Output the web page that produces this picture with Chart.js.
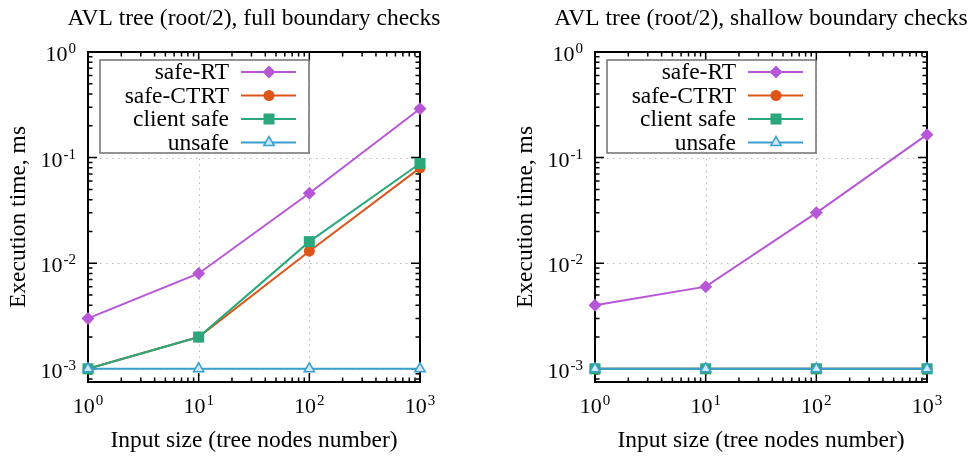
<!DOCTYPE html>
<html>
<head>
<meta charset="utf-8">
<script src="https://cdn.jsdelivr.net/npm/chart.js@4.4.1/dist/chart.umd.min.js"></script>
<style>
body { margin: 0; background: #fff; }
#wrap { display: flex; width: 974px; height: 458px; }
.box { width: 487px; height: 458px; }
</style>
</head>
<body>
<div id="wrap">
  <div class="box"><canvas id="fullChart" width="487" height="458"></canvas></div>
  <div class="box"><canvas id="shallowChart" width="487" height="458"></canvas></div>
</div>
<script>
// -- data --
const inputSizes = [1, 10, 100, 1000];
const seriesNames = ['safe-RT', 'safe-CTRT', 'client safe', 'unsafe'];

// full boundary checks
const fullSafeRT = [0.003, 0.008, 0.046, 0.29];
const fullSafeCTRT = [0.001, 0.002, 0.013, 0.08];
const fullClientSafe = [0.001, 0.002, 0.016, 0.088];
const fullUnsafe = [0.001, 0.001, 0.001, 0.001];

// shallow boundary checks
const shallowSafeRT = [0.004, 0.006, 0.030, 0.165];
const shallowSafeCTRT = [0.001, 0.001, 0.001, 0.001];
const shallowClientSafe = [0.001, 0.001, 0.001, 0.001];
const shallowUnsafe = [0.001, 0.001, 0.001, 0.001];

// tick values and labels (10 to the power of ...)
const xTicks = [1, 10, 100, 1000];
const xTickExps = ['0', '1', '2', '3'];
const yTicks = [0.001, 0.01, 0.1, 1];
const yTickExps = ['-3', '-2', '-1', '0'];

// -- styles --
const FONT = "'Liberation Serif', 'DejaVu Serif', serif";
const seriesColors = ['#b757d8', '#dc561a', '#2ba87b', '#3a9fcf'];
const seriesPoints = ['rectRot', 'circle', 'rect', 'triangle'];
const seriesRadius = [6.5, 5.5, 7.8, 6];
const seriesFill = ['#b757d8', '#dc561a', '#2ba87b', '#cfe8f5'];

function buildDatasets(valueLists)
{
    return valueLists.map((vals, i) => ({
        label: seriesNames[i],
        data: inputSizes.map((s, k) => ({x: s, y: vals[k]})),
        borderColor: seriesColors[i],
        backgroundColor: seriesFill[i],
        pointBackgroundColor: seriesFill[i],
        pointBorderColor: seriesColors[i],
        pointStyle: seriesPoints[i],
        pointRadius: seriesRadius[i],
        pointBorderWidth: i == 3 ? 1.5 : 0,
        borderWidth: 2,
        tension: 0,
        clip: false,
        order: 3 - i   // unsafe drawn on top
    }));
}

// --- draw a marker like Chart.js does (for the legend) ---
function marker(ctx, style, x, y, r, fill, stroke)
{
    ctx.beginPath();
    if (style == 'circle')
        ctx.arc(x, y, r, 0, Math.PI * 2);
    else if (style == 'rect')
    {
        let h = Math.SQRT1_2 * r;
        ctx.rect(x - h, y - h, 2 * h, 2 * h);
    }
    else if (style == 'rectRot')
    {
        ctx.moveTo(x - r, y); ctx.lineTo(x, y - r);
        ctx.lineTo(x + r, y); ctx.lineTo(x, y + r);
        ctx.closePath();
    }
    else
    {
        ctx.moveTo(x, y - r);
        ctx.lineTo(x + r * Math.sin(2 * Math.PI / 3), y - r * Math.cos(2 * Math.PI / 3));
        ctx.lineTo(x + r * Math.sin(4 * Math.PI / 3), y - r * Math.cos(4 * Math.PI / 3));
        ctx.closePath();
    }
    ctx.fillStyle = fill;
    ctx.fill();
    if (style == 'triangle')
    {
        ctx.lineWidth = 1.5;
        ctx.strokeStyle = stroke;
        ctx.stroke();
    }
}

// --> "10" with a raised exponent <--
function powerLabel(ctx, exp, x, y, align)
{
    ctx.font = '22px ' + FONT;
    let wb = ctx.measureText('10').width;
    ctx.font = '15px ' + FONT;
    let we = ctx.measureText(exp).width;
    let w = wb + 1 + we;
    let x0 = align == 'right' ? x - w : x - w / 2;
    ctx.textAlign = 'left';
    ctx.textBaseline = 'alphabetic';
    ctx.fillStyle = '#000';
    ctx.font = '22px ' + FONT;
    ctx.fillText('10', x0, y);
    ctx.font = '15px ' + FONT;
    ctx.fillText(exp, x0 + wb + 1, y - 8);
}

// --- gnuplot like frame: dotted grid, inward ticks, box, legend, title ---
const gnuFrame = {
    id: 'gnuFrame',
    beforeDatasetsDraw(chart)
    {
        const {ctx, chartArea: a, scales: {x, y}} = chart;
        ctx.save();

        // dotted grid on decades
        ctx.strokeStyle = '#b8b8b8';
        ctx.lineWidth = 1;
        ctx.setLineDash([1.5, 4.5]);
        for (let v of xTicks)
        {
            let px = Math.round(x.getPixelForValue(v)) + 0.5;
            if (px <= a.left + 2 || px >= a.right - 2) continue;
            ctx.beginPath(); ctx.moveTo(px, a.bottom); ctx.lineTo(px, a.top); ctx.stroke();
        }
        for (let v of yTicks)
        {
            let py = Math.round(y.getPixelForValue(v)) + 0.5;
            if (py <= a.top + 2 || py >= a.bottom - 2) continue;
            ctx.beginPath(); ctx.moveTo(a.left, py); ctx.lineTo(a.right, py); ctx.stroke();
        }
        ctx.setLineDash([]);

        // ticks (major on decades, minor on 2..9)
        ctx.strokeStyle = '#000';
        ctx.lineWidth = 1.5;
        const tick = (isX, px, len) => {
            ctx.beginPath();
            if (isX)
            {
                ctx.moveTo(px, a.bottom); ctx.lineTo(px, a.bottom - len);
                ctx.moveTo(px, a.top); ctx.lineTo(px, a.top + len);
            }
            else
            {
                ctx.moveTo(a.left, px); ctx.lineTo(a.left + len, px);
                ctx.moveTo(a.right, px); ctx.lineTo(a.right - len, px);
            }
            ctx.stroke();
        };
        for (let [scale, isX] of [[x, true], [y, false]])
        {
            let lo = Math.floor(Math.log10(scale.min));
            let hi = Math.ceil(Math.log10(scale.max));
            for (let e = lo; e <= hi; e++)
                for (let k = 1; k <= 9; k++)
                {
                    let v = k * Math.pow(10, e);
                    if (v < scale.min * 0.999 || v > scale.max * 1.001) continue;
                    tick(isX, scale.getPixelForValue(v), k == 1 ? 9 : 4.5);
                }
        }

        // box
        ctx.lineWidth = 2;
        ctx.strokeRect(a.left, a.top, a.right - a.left, a.bottom - a.top);

        // tick labels
        xTicks.forEach((v, i) => powerLabel(ctx, xTickExps[i], x.getPixelForValue(v), a.bottom + 31, 'center'));
        yTicks.forEach((v, i) => powerLabel(ctx, yTickExps[i], a.left - 12, y.getPixelForValue(v) + 9, 'right'));
        ctx.restore();
    },
    afterDraw(chart, args, opts)
    {
        const {ctx, chartArea: a} = chart;
        ctx.save();

        // title
        ctx.fillStyle = '#000';
        ctx.font = '23.5px ' + FONT;
        ctx.textAlign = 'center';
        ctx.textBaseline = 'middle';
        ctx.fillText(opts.title, (a.left + a.right) / 2, 19);

        // legend box
        let lx = a.left + 12, ly = a.top + 8;
        ctx.fillStyle = '#fff';
        ctx.fillRect(lx, ly, 209, 93);
        ctx.strokeStyle = '#707070';
        ctx.lineWidth = 1.5;
        ctx.strokeRect(lx, ly, 209, 93);

        ctx.font = '23.5px ' + FONT;
        chart.data.datasets.forEach((ds, i) => {
            let ry = a.top + 20 + i * 23.5;
            ctx.fillStyle = '#000';
            ctx.textAlign = 'right';
            ctx.fillText(ds.label, a.left + 141, ry + 1);
            ctx.strokeStyle = seriesColors[i];
            ctx.lineWidth = 2;
            ctx.beginPath();
            ctx.moveTo(a.left + 153, ry); ctx.lineTo(a.left + 208, ry);
            ctx.stroke();
            marker(ctx, seriesPoints[i], a.left + 181, ry, seriesRadius[i], seriesFill[i], seriesColors[i]);
        });
        ctx.restore();
    }
};

function makeChart(canvasId, title, valueLists, padLeft)
{
    const ctx = document.getElementById(canvasId).getContext('2d');
    return new Chart(ctx, {
        type: 'line',
        data: { datasets: buildDatasets(valueLists) },
        options: {
            responsive: false,
            animation: false,
            layout: { padding: { left: padLeft, right: 67 - padLeft, top: 52, bottom: 0 } },
            plugins: {
                legend: { display: false },
                title: { display: false },
                tooltip: { enabled: false },
                gnuFrame: { title: title }
            },
            scales: {
                x: {
                    type: 'logarithmic',
                    min: 1,
                    max: 1000,
                    afterFit: s => { s.height = 76; },
                    grid: { display: false, drawTicks: false },
                    border: { display: false },
                    ticks: { display: false },
                    title: {
                        display: true,
                        text: 'Input size (tree nodes number)',
                        color: '#000',
                        font: { family: FONT, size: 23.5 },
                        padding: { top: 4, bottom: 3 }
                    }
                },
                y: {
                    type: 'logarithmic',
                    min: 0.00075,
                    max: 1,
                    afterFit: s => { s.width = 88; },
                    grid: { display: false, drawTicks: false },
                    border: { display: false },
                    ticks: { display: false },
                    title: {
                        display: true,
                        text: 'Execution time, ms',
                        color: '#000',
                        font: { family: FONT, size: 23.5 },
                        padding: { top: 5, bottom: 4 }
                    }
                }
            }
        },
        plugins: [gnuFrame]
    });
}

const fullChart = makeChart('fullChart', 'AVL tree (root/2), full boundary checks',
    [fullSafeRT, fullSafeCTRT, fullClientSafe, fullUnsafe], 0);
const shallowChart = makeChart('shallowChart', 'AVL tree (root/2), shallow boundary checks',
    [shallowSafeRT, shallowSafeCTRT, shallowClientSafe, shallowUnsafe], 20);
</script>
</body>
</html>
